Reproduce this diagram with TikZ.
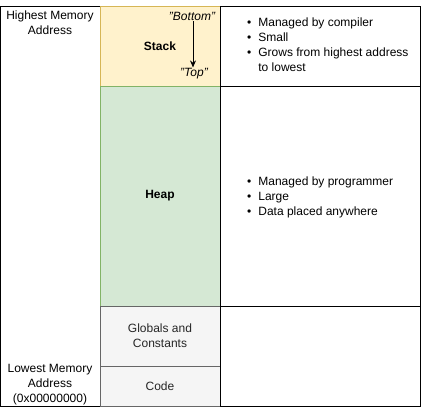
\documentclass[tikz,border=0pt]{standalone}
\usepackage{fontspec}
\setmainfont{Liberation Sans}
\usepackage{xcolor}
\definecolor{stackFill}{HTML}{FFF2CC}
\definecolor{stackLine}{HTML}{D6B656}
\definecolor{heapFill}{HTML}{D5E8D4}
\definecolor{heapLine}{HTML}{82B366}
\definecolor{dataFill}{HTML}{F5F5F5}
\definecolor{dataLine}{HTML}{666666}
\usetikzlibrary{arrows.meta, positioning}
\newcommand{\memList}[1]{\begin{tabular}{@{}l@{\hspace{7pt}}l@{}}#1\end{tabular}}

\begin{document}
\begin{tikzpicture}[
    x=1pt, y=-1pt,
    font=\fontsize{12}{15}\selectfont,
    addrCol/.style={draw=black, fill=white, minimum width=100pt, minimum height=400pt, line width=0.8pt, inner sep=0pt},
    segStack/.style={draw=stackLine, fill=stackFill, minimum width=120pt, minimum height=80pt, line width=0.8pt, inner sep=0pt},
    segHeap/.style={draw=heapLine, fill=heapFill, minimum width=120pt, minimum height=220pt, line width=0.8pt, inner sep=0pt},
    segData/.style={draw=dataLine, fill=dataFill, minimum width=120pt, line width=0.8pt, inner sep=0pt, align=center, text=black!85},
    noteBox/.style={draw=black, fill=white, minimum width=200pt, line width=0.8pt, inner sep=0pt},
    addrText/.style={align=center, inner sep=0pt},
    tagText/.style={font=\fontsize{12}{15}\selectfont\itshape, inner sep=1pt}
]
\useasboundingbox (0,0) rectangle (421,407);

% Left column: addresses
\node[addrCol] (addr) at (50,206) {};
\node[addrText] (high) at (50,23) {Highest Memory\\Address};
\node[addrText] (low) at (50,385) {Lowest Memory\\Address\\(0x00000000)};

% Middle column: segments
\node[segStack] (stack) at (160,46) {};
\node[font=\fontsize{12}{15}\selectfont\bfseries] (stackLbl) at (160,46) {Stack};
\node[segHeap] (heap) at (160,196) {\textbf{Heap}};
\node[segData, minimum height=60pt] (globals) at (160,336) {Globals and\\Constants};
\node[segData, minimum height=40pt] (code) at (160,386) {Code};

% Stack growth arrow
\node[tagText] (bottom) at (192,16) {"Bottom"};
\node[tagText] (top) at (194,74) {"Top"};
\draw[-{Stealth[length=7pt,width=6pt]}, line width=1pt] (bottom.south -| 193,0) -- (top.north -| 193,0);

% Right column: notes
\node[noteBox, minimum height=80pt] (stackNote) at (320,46) {};
\node[noteBox, minimum height=220pt] (heapNote) at (320,196) {};
\node[noteBox, minimum height=100pt] (dataNote) at (320,356) {};

\node[anchor=north west, inner sep=0pt] (stackItems) at (247,16) {\memList{%
  \textbullet & Managed by compiler\\
  \textbullet & Small\\
  \textbullet & Grows from highest address\\
  & to lowest}};
\node[anchor=north west, inner sep=0pt] (heapItems) at (247,175) {\memList{%
  \textbullet & Managed by programmer\\
  \textbullet & Large\\
  \textbullet & Data placed anywhere}};

\end{tikzpicture}
\end{document}
